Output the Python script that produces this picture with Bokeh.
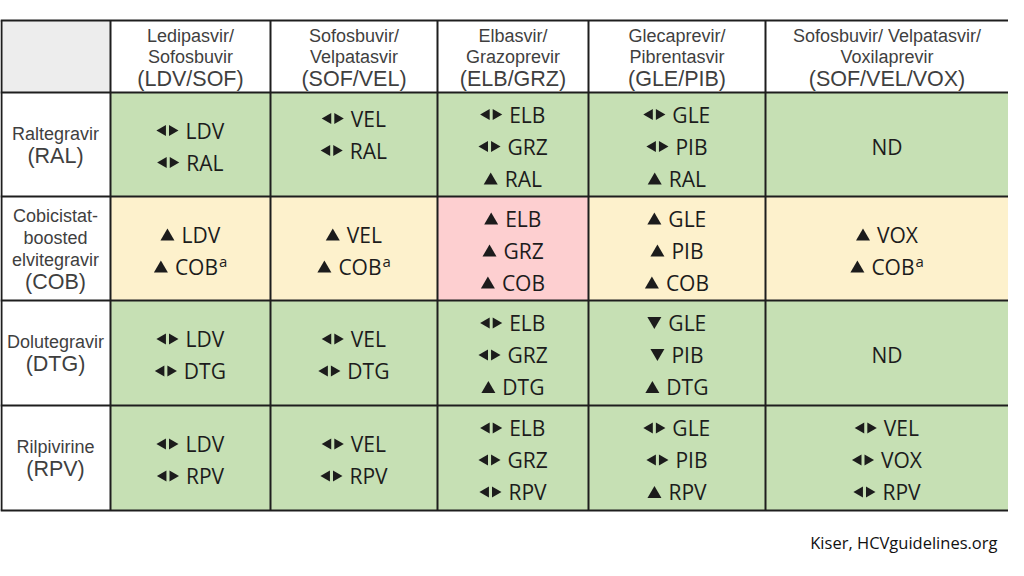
import math
from bokeh.plotting import figure
from bokeh.models import Range1d, ColumnDataSource
from bokeh.core.properties import value
from bokeh.embed import file_html
from bokeh.resources import INLINE

# ---------------- data ----------------
col_names = [["Ledipasvir/", "Sofosbuvir"],
             ["Sofosbuvir/", "Velpatasvir"],
             ["Elbasvir/", "Grazoprevir"],
             ["Glecaprevir/", "Pibrentasvir"],
             ["Sofosbuvir/ Velpatasvir/", "Voxilaprevir"]]
col_abbrev = ["(LDV/SOF)", "(SOF/VEL)", "(ELB/GRZ)", "(GLE/PIB)", "(SOF/VEL/VOX)"]
row_names = [["Raltegravir"],
             ["Cobicistat-", "boosted", "elvitegravir"],
             ["Dolutegravir"],
             ["Rilpivirine"]]
row_abbrev = ["(RAL)", "(COB)", "(DTG)", "(RPV)"]

# effect: "lr" = no effect (◀▶), "up" = increase (▲), "down" = decrease (▼), "" = none
row_ral = [[("lr", "LDV", ""), ("lr", "RAL", "")],
           [("lr", "VEL", ""), ("lr", "RAL", "")],
           [("lr", "ELB", ""), ("lr", "GRZ", ""), ("up", "RAL", "")],
           [("lr", "GLE", ""), ("lr", "PIB", ""), ("up", "RAL", "")],
           [("", "ND", "")]]
row_cob = [[("up", "LDV", ""), ("up", "COB", "a")],
           [("up", "VEL", ""), ("up", "COB", "a")],
           [("up", "ELB", ""), ("up", "GRZ", ""), ("up", "COB", "")],
           [("up", "GLE", ""), ("up", "PIB", ""), ("up", "COB", "")],
           [("up", "VOX", ""), ("up", "COB", "a")]]
row_dtg = [[("lr", "LDV", ""), ("lr", "DTG", "")],
           [("lr", "VEL", ""), ("lr", "DTG", "")],
           [("lr", "ELB", ""), ("lr", "GRZ", ""), ("up", "DTG", "")],
           [("down", "GLE", ""), ("down", "PIB", ""), ("up", "DTG", "")],
           [("", "ND", "")]]
row_rpv = [[("lr", "LDV", ""), ("lr", "RPV", "")],
           [("lr", "VEL", ""), ("lr", "RPV", "")],
           [("lr", "ELB", ""), ("lr", "GRZ", ""), ("lr", "RPV", "")],
           [("lr", "GLE", ""), ("lr", "PIB", ""), ("up", "RPV", "")],
           [("lr", "VEL", ""), ("lr", "VOX", ""), ("lr", "RPV", "")]]
cell_effects = [row_ral, row_cob, row_dtg, row_rpv]

# interaction level: 0 = no interaction, 1 = caution, 2 = avoid
level_ral = [0, 0, 0, 0, 0]
level_cob = [1, 1, 2, 1, 1]
level_dtg = [0, 0, 0, 0, 0]
level_rpv = [0, 0, 0, 0, 0]
cell_levels = [level_ral, level_cob, level_dtg, level_rpv]

source_note = "Kiser, HCVguidelines.org"

# ---------------- layout / style ----------------
W, H = 1008, 560
col_edges = [0, 110, 270, 437, 588, 765, 1008]
row_edges = [20, 92, 196, 300, 405, 510]
cell_nudge = {(0, 1): -12}   # vertical nudge of contents (as in the source slide)
level_colors = ["#c6e0b4", "#fdf1cc", "#fdcfd0"]
corner_color = "#ededed"
line_color = "#1e1e1e"
head_color = "#3f3f3f"
cell_text_color = "#1c1c1c"
CELL_FONT = "Open Sans"
HEAD_FONT = "Liberation Sans"
CELL_FS = 21
CW = {'A': .633, 'B': .648, 'C': .631, 'D': .729, 'E': .556, 'G': .727, 'I': .279,
      'L': .54, 'N': .754, 'O': .779, 'P': .604, 'R': .617, 'T': .556, 'V': .593,
      'X': .58, 'Z': .56}

p = figure(width=W, height=H, output_backend="svg", toolbar_location=None,
           x_range=Range1d(0, W), y_range=Range1d(H, 0), min_border=0)
p.axis.visible = False
p.grid.visible = False
p.outline_line_color = None
p.background_fill_color = "white"
p.border_fill_color = "white"

# ---- cell backgrounds ----
q = dict(left=[], right=[], top=[], bottom=[], color=[])
q["left"].append(col_edges[0]); q["right"].append(col_edges[1])
q["top"].append(row_edges[0]); q["bottom"].append(row_edges[1])
q["color"].append(corner_color)
for c in range(len(col_abbrev)):
    q["left"].append(col_edges[c + 1]); q["right"].append(col_edges[c + 2])
    q["top"].append(row_edges[0]); q["bottom"].append(row_edges[1])
    q["color"].append("white")
for r in range(len(row_abbrev)):
    q["left"].append(col_edges[0]); q["right"].append(col_edges[1])
    q["top"].append(row_edges[r + 1]); q["bottom"].append(row_edges[r + 2])
    q["color"].append("white")
    for c in range(len(col_abbrev)):
        q["left"].append(col_edges[c + 1]); q["right"].append(col_edges[c + 2])
        q["top"].append(row_edges[r + 1]); q["bottom"].append(row_edges[r + 2])
        q["color"].append(level_colors[cell_levels[r][c]])
p.quad(left="left", right="right", top="top", bottom="bottom", fill_color="color",
       line_color=None, source=ColumnDataSource(q))

# ---- grid lines ----
seg = dict(x0=[], y0=[], x1=[], y1=[])
for ye in row_edges:
    seg["x0"].append(col_edges[0]); seg["x1"].append(col_edges[-1])
    seg["y0"].append(ye); seg["y1"].append(ye)
for xe in col_edges[:-1]:
    xx = max(xe, 1)
    seg["x0"].append(xx); seg["x1"].append(xx)
    seg["y0"].append(row_edges[0]); seg["y1"].append(row_edges[-1])
p.segment(x0="x0", y0="y0", x1="x1", y1="y1", line_color=line_color, line_width=2,
          source=ColumnDataSource(seg))

# ---- header text ----
hs = dict(x=[], y=[], t=[], fs=[])
for c in range(len(col_abbrev)):
    cx = (col_edges[c + 1] + col_edges[c + 2]) / 2
    lines = col_names[c]
    for i, t in enumerate(lines):
        hs["x"].append(cx); hs["y"].append(35 + 21.5 * i); hs["t"].append(t); hs["fs"].append("18px")
    hs["x"].append(cx); hs["y"].append(35 + 21.5 * len(lines)); hs["t"].append(col_abbrev[c]); hs["fs"].append("21.5px")
for r in range(len(row_abbrev)):
    cx = (col_edges[0] + col_edges[1]) / 2
    cy = (row_edges[r + 1] + row_edges[r + 2]) / 2
    lines = row_names[r] + [row_abbrev[r]]
    n = len(lines)
    for i, t in enumerate(lines):
        ly = cy + (i - (n - 1) / 2) * 22
        last = i == n - 1
        hs["x"].append(cx); hs["y"].append(ly)
        hs["t"].append(t); hs["fs"].append("21.5px" if last else "18px")
p.text(x="x", y="y", text="t", text_font_size="fs", text_font=value(HEAD_FONT),
       text_color=head_color, text_align="center", text_baseline="middle",
       source=ColumnDataSource(hs))

# ---- cell contents ----
txt = dict(x=[], y=[], t=[], align=[])
sup = dict(x=[], y=[], t=[])
mk = dict(x=[], y=[], marker=[], angle=[], size=[])
SPACING = 32
for r in range(len(row_abbrev)):
    for c in range(len(col_abbrev)):
        cy = (row_edges[r + 1] + row_edges[r + 2]) / 2 + 2 + cell_nudge.get((r, c), 0)
        cx = (col_edges[c + 1] + col_edges[c + 2]) / 2
        entries = cell_effects[r][c]
        n = len(entries)
        for i, (eff, name, note) in enumerate(entries):
            ly = cy + (i - (n - 1) / 2) * SPACING
            nw = sum(CW.get(ch, .6) for ch in name) * CELL_FS
            if eff == "":
                txt["x"].append(cx); txt["y"].append(ly); txt["t"].append(name); txt["align"].append("center")
                continue
            symw = 22 if eff == "lr" else 14
            gap = 7
            total = symw + gap + nw + (9 if note else 0)
            x0 = cx - total / 2
            if eff == "lr":
                mk["x"] += [x0 + 6.3, x0 + 15.7]
                mk["y"] += [ly, ly]
                mk["marker"] += ["triangle", "triangle"]
                mk["angle"] += [math.pi / 2, -math.pi / 2]
                mk["size"] += [11, 11]
            elif eff == "up":
                mk["x"].append(x0 + 7); mk["y"].append(ly + 2)
                mk["marker"].append("triangle"); mk["angle"].append(0.0); mk["size"].append(14)
            else:
                mk["x"].append(x0 + 7); mk["y"].append(ly - 2)
                mk["marker"].append("inverted_triangle"); mk["angle"].append(0.0); mk["size"].append(14)
            tx = x0 + symw + gap
            txt["x"].append(tx); txt["y"].append(ly); txt["t"].append(name); txt["align"].append("left")
            if note:
                sup["x"].append(tx + nw + 1); sup["y"].append(ly - 6); sup["t"].append(note)

p.scatter(x="x", y="y", marker="marker", angle="angle", size="size",
          fill_color=cell_text_color, line_color=None, source=ColumnDataSource(mk))
p.text(x="x", y="y", text="t", text_align="align", text_baseline="middle",
       text_font=value(CELL_FONT), text_font_size=f"{CELL_FS}px", text_color=cell_text_color,
       source=ColumnDataSource(txt))
p.text(x="x", y="y", text="t", text_align="left", text_baseline="middle",
       text_font=value(CELL_FONT), text_font_size="15px", text_color=cell_text_color,
       source=ColumnDataSource(sup))

# ---- source note ----
p.text(x=[997], y=[542], text=[source_note], text_align="right", text_baseline="middle",
       text_font=value("Open Sans"), text_font_size="16.5px", text_color="#111111")

open("out.html", "w").write(file_html(p, INLINE))
